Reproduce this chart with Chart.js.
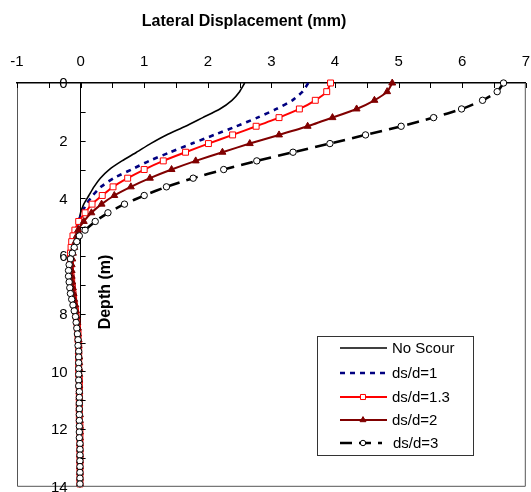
<!DOCTYPE html>
<html>
<head>
<meta charset="utf-8">
<script src="https://cdn.jsdelivr.net/npm/chart.js@4.4.1/dist/chart.umd.min.js"></script>
<style>
html,body{margin:0;padding:0;background:#fff;}
canvas{display:block;}
</style>
</head>
<body>
<canvas id="c" width="531" height="492"></canvas>
<script>
// ---- data (depth in m, lateral displacement in mm) ----
const depth = [0,0.3,0.6,0.9,1.2,1.5,1.8,2.1,2.4,2.7,3.0,3.3,3.6,3.9,4.2,4.5,4.8,5.1,
  5.3,5.5,5.7,5.9,6.1,6.3,6.5,6.7,6.9,7.1,7.3,7.5,7.7,7.9,8.1,8.3,8.5,8.7,8.9,9.1,9.3,
  9.5,9.7,9.9,10.1,10.3,10.5,10.7,10.9,11.1,11.3,11.5,11.7,11.9,12.1,12.3,12.5,12.7,12.9,13.1,13.3,13.5,13.7,13.9];

const noScour = [2.58,2.50,2.38,2.19,1.92,1.65,1.35,1.10,0.88,0.65,0.45,0.31,0.21,0.13,0.05,0.00,-0.03,-0.06,
  -0.08,-0.10,-0.11,-0.12,-0.12,-0.12,-0.12,-0.11,-0.10,-0.09,-0.08,-0.07,-0.06,-0.05,-0.05,-0.04,-0.04,-0.03,-0.03,-0.03,-0.02,
  -0.02,-0.02,-0.02,-0.02,-0.02,-0.02,-0.02,-0.02,-0.01,-0.01,-0.01,-0.01,-0.01,-0.01,-0.01,-0.01,-0.01,-0.01,-0.01,-0.01,-0.01,-0.01,-0.01];

const ds1 = [3.58,3.49,3.33,3.08,2.78,2.45,2.10,1.75,1.41,1.08,0.80,0.52,0.32,0.19,0.09,0.02,-0.03,-0.07,
  -0.09,-0.11,-0.12,-0.13,-0.13,-0.13,-0.13,-0.12,-0.11,-0.10,-0.09,-0.08,-0.07,-0.06,-0.05,-0.05,-0.04,-0.04,-0.03,-0.03,-0.03,
  -0.02,-0.02,-0.02,-0.02,-0.02,-0.02,-0.02,-0.02,-0.01,-0.01,-0.01,-0.01,-0.01,-0.01,-0.01,-0.01,-0.01,-0.01,-0.01,-0.01,-0.01,-0.01,-0.01];

const ds13 = [3.93,3.87,3.69,3.44,3.12,2.76,2.39,2.01,1.65,1.30,1.00,0.74,0.51,0.34,0.18,0.07,-0.03,-0.09,
  -0.12,-0.14,-0.15,-0.16,-0.16,-0.16,-0.16,-0.15,-0.14,-0.13,-0.12,-0.11,-0.10,-0.08,-0.07,-0.06,-0.05,-0.04,-0.04,-0.03,-0.03,
  -0.03,-0.03,-0.03,-0.03,-0.02,-0.02,-0.02,-0.02,-0.02,-0.02,-0.02,-0.02,-0.01,-0.01,-0.01,-0.01,-0.01,-0.01,-0.01,-0.01,-0.01,-0.01,-0.01];

const ds2 = [4.90,4.82,4.62,4.34,3.96,3.57,3.12,2.66,2.23,1.81,1.43,1.09,0.79,0.53,0.33,0.17,0.05,-0.04,
  -0.06,-0.08,-0.10,-0.12,-0.13,-0.14,-0.14,-0.14,-0.13,-0.12,-0.11,-0.10,-0.08,-0.07,-0.06,-0.05,-0.04,-0.04,-0.03,-0.03,-0.03,
  -0.02,-0.02,-0.02,-0.02,-0.02,-0.02,-0.02,-0.02,-0.02,-0.02,-0.01,-0.01,-0.01,-0.01,-0.01,-0.01,-0.01,-0.01,-0.01,-0.01,-0.01,-0.01,-0.01];

const ds3 = [6.65,6.55,6.32,5.99,5.55,5.04,4.48,3.92,3.34,2.77,2.25,1.77,1.35,1.00,0.69,0.43,0.23,0.07,
  -0.02,-0.06,-0.10,-0.13,-0.16,-0.18,-0.19,-0.19,-0.18,-0.17,-0.16,-0.14,-0.12,-0.10,-0.08,-0.07,-0.06,-0.05,-0.04,-0.04,-0.03,
  -0.03,-0.03,-0.03,-0.03,-0.03,-0.03,-0.02,-0.02,-0.02,-0.02,-0.02,-0.02,-0.02,-0.02,-0.02,-0.01,-0.01,-0.01,-0.01,-0.01,-0.01,-0.01,-0.01];

const seriesNames = ['No Scour','ds/d=1','ds/d=1.3','ds/d=2','ds/d=3'];
const xMinorTicks = [-1,-0.5,0,0.5,1,1.5,2,2.5,3,3.5,4,4.5,5,5.5,6,6.5,7];
const yMinorTicks = [1,2,3,4,5,6,7,8,9,10,11,12,13];
const yTickLabels = [0,2,4,6,8,10,12,14];
const xTitle = 'Lateral Displacement (mm)';
const yTitle = 'Depth (m)';

const FONT = '"Liberation Sans", Arial, sans-serif';

function pts(vals){ return vals.map((v,i)=>({x:v, y:depth[i]})); }

const datasets = [
  {label:seriesNames[0], data:pts(noScour), borderColor:'#000000', borderWidth:1.6, pointRadius:0, order:4},
  {label:seriesNames[1], data:pts(ds1), borderColor:'#000080', borderWidth:2.6, borderDash:[5,5], pointRadius:0, order:3},
  {label:seriesNames[2], data:pts(ds13), borderColor:'#FF0000', borderWidth:2, pointStyle:'rect', pointRadius:4.2,
    pointBorderColor:'#FF0000', pointBackgroundColor:'#FFFFFF', pointBorderWidth:1, order:2},
  {label:seriesNames[3], data:pts(ds2), borderColor:'#800000', borderWidth:2, pointStyle:'triangle', pointRadius:4,
    pointBorderColor:'#800000', pointBackgroundColor:'#800000', pointBorderWidth:1, order:1},
  {label:seriesNames[4], data:pts(ds3), borderColor:'#000000', borderWidth:2.6, borderDash:[12,7], pointStyle:'circle', pointRadius:3.2,
    pointBorderColor:'#000000', pointBackgroundColor:'#FFFFFF', pointBorderWidth:1, order:0}
];
datasets.forEach(d=>{ d.showLine = true; d.tension = 0.2; d.clip = false; d.fill = false; });

function drawMarker(ctx, style, x, y, r, ds){
  ctx.save();
  ctx.setLineDash([]);
  ctx.lineWidth = ds.pointBorderWidth || 1;
  ctx.strokeStyle = ds.pointBorderColor;
  ctx.fillStyle = ds.pointBackgroundColor;
  ctx.beginPath();
  if (style === 'rect') {
    const s = r*Math.SQRT1_2;
    ctx.rect(x-s, y-s, 2*s, 2*s);
  } else if (style === 'triangle') {
    ctx.moveTo(x, y - r);
    ctx.lineTo(x + r*0.866, y + r*0.5);
    ctx.lineTo(x - r*0.866, y + r*0.5);
    ctx.closePath();
  } else {
    ctx.arc(x, y, r, 0, Math.PI*2);
  }
  ctx.fill(); ctx.stroke();
  ctx.restore();
}

const decor = {
  id:'decor',
  afterDraw(chart){
    const {ctx, chartArea:a, scales:{x, y}} = chart;
    ctx.save();
    // frame (left, bottom, right)
    ctx.setLineDash([]);
    ctx.strokeStyle = '#555555'; ctx.lineWidth = 1;
    ctx.beginPath();
    ctx.moveTo(a.left+0.5, a.top); ctx.lineTo(a.left+0.5, a.bottom-0.5);
    ctx.lineTo(a.right-0.5, a.bottom-0.5); ctx.lineTo(a.right-0.5, a.top);
    ctx.stroke();
    // ticks
    ctx.strokeStyle = '#000'; ctx.lineWidth = 1;
    ctx.beginPath();
    xMinorTicks.forEach(v=>{ const px = Math.round(x.getPixelForValue(v))+0.5; ctx.moveTo(px, a.top); ctx.lineTo(px, a.top+5); });
    const x0 = x.getPixelForValue(0);
    yMinorTicks.forEach(v=>{ const py = Math.round(y.getPixelForValue(v))+0.5; ctx.moveTo(x0, py); ctx.lineTo(x0+5, py); });
    ctx.stroke();
    // y tick labels (left of the axis at x = 0)
    ctx.fillStyle = '#000';
    ctx.font = '15px ' + FONT;
    ctx.textAlign = 'right'; ctx.textBaseline = 'middle';
    yTickLabels.forEach(v=>{ ctx.fillText(String(v), x0 - 13, y.getPixelForValue(v) + 1); });
    // titles
    ctx.font = 'bold 16px ' + FONT;
    ctx.textAlign = 'center'; ctx.textBaseline = 'middle';
    ctx.fillText(xTitle, 244, 22);
    ctx.save();
    ctx.translate(106, 292); ctx.rotate(-Math.PI/2);
    ctx.fillText(yTitle, 0, 0);
    ctx.restore();
    // legend
    const L = {x:317, y:336, w:156, h:119};
    ctx.fillStyle = '#fff';
    ctx.fillRect(L.x, L.y, L.w, L.h);
    ctx.strokeStyle = '#333'; ctx.lineWidth = 1;
    ctx.strokeRect(L.x+0.5, L.y+0.5, L.w, L.h);
    const rows = [348, 373, 397, 420, 443];
    chart.data.datasets.forEach((ds, i)=>{
      const yy = rows[i];
      ctx.save();
      ctx.strokeStyle = ds.borderColor; ctx.lineWidth = ds.borderWidth;
      ctx.setLineDash(ds.borderDash || []);
      ctx.beginPath(); ctx.moveTo(340, yy); ctx.lineTo(i===4?382:387, yy); ctx.stroke();
      ctx.restore();
      if (ds.pointRadius > 0) drawMarker(ctx, ds.pointStyle, 363, yy, ds.pointRadius*0.85, ds);
      ctx.fillStyle = '#000'; ctx.font = '15px ' + FONT;
      ctx.textAlign = 'left'; ctx.textBaseline = 'middle';
      ctx.fillText(ds.label, i===4?393:392, yy+1);
    });
    ctx.restore();
  }
};

new Chart(document.getElementById('c'), {
  type:'scatter',
  data:{datasets},
  options:{
    responsive:false,
    animation:false,
    devicePixelRatio:1,
    layout:{padding:{left:17, right:5, top:0, bottom:3}},
    plugins:{legend:{display:false}, tooltip:{enabled:false}, title:{display:false}},
    scales:{
      x:{
        type:'linear', position:'top', min:-1, max:7,
        ticks:{stepSize:1, color:'#000', font:{family:FONT, size:15}, padding:12, maxRotation:0},
        grid:{display:false, drawTicks:false, tickLength:0},
        border:{display:true, color:'#000', width:1.5},
        afterFit(s){ s.height = 83; s.paddingLeft = 0; s.paddingRight = 0; }
      },
      y:{
        type:'linear', reverse:true, min:0, max:14, position:{x:0},
        ticks:{stepSize:2, display:false},
        grid:{display:false, drawTicks:false, tickLength:0},
        border:{display:true, color:'#000', width:1},
        afterFit(s){ s.paddingTop = 0; s.paddingBottom = 0; s.width = 0; }
      }
    }
  },
  plugins:[decor]
});
</script>
</body>
</html>
